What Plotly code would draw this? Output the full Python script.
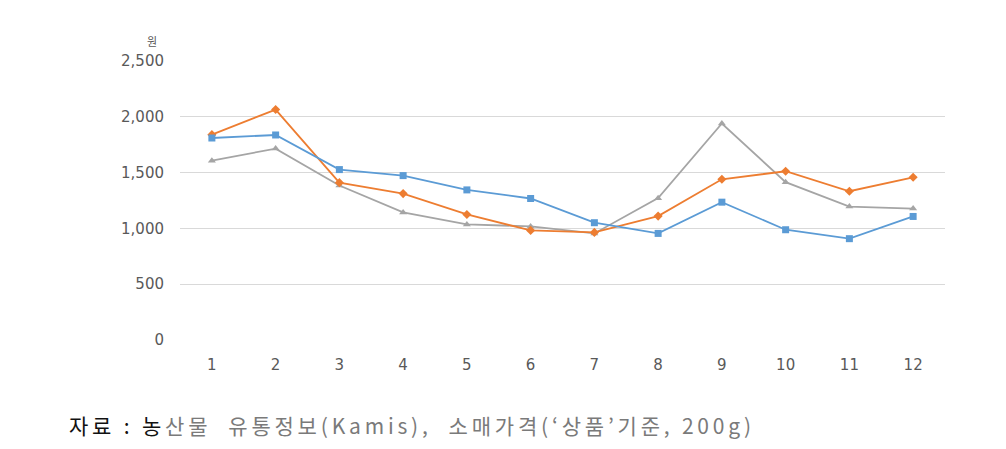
import plotly.graph_objects as go

months = ["1", "2", "3", "4", "5", "6", "7", "8", "9", "10", "11", "12"]
series_blue = [1810, 1837, 1527, 1473, 1345, 1268, 1051, 955, 1235, 988, 908, 1107]
series_orange = [1840, 2065, 1410, 1312, 1125, 982, 964, 1110, 1440, 1512, 1333, 1458]
series_gray = [1607, 1715, 1384, 1143, 1036, 1018, 955, 1271, 1940, 1414, 1196, 1178]
y_ticks = [0, 500, 1000, 1500, 2000, 2500]
y_tick_text = ["0", "500", "1,000", "1,500", "2,000", "2,500"]
unit_label = "원"
caption_dark = "자료 : 농"
caption_rest = "산물  유통정보(Kamis),  소매가격(‘상품’기준, 200g)"

fig = go.Figure()
fig.add_trace(go.Scatter(x=months, y=series_gray, mode="lines+markers",
                         line=dict(color="#A5A5A5", width=1.8),
                         marker=dict(symbol="triangle-up", size=7, color="#A5A5A5")))
fig.add_trace(go.Scatter(x=months, y=series_orange, mode="lines+markers",
                         line=dict(color="#ED7D31", width=1.8),
                         marker=dict(symbol="diamond", size=7, color="#ED7D31")))
fig.add_trace(go.Scatter(x=months, y=series_blue, mode="lines+markers",
                         line=dict(color="#5B9BD5", width=1.8),
                         marker=dict(symbol="square", size=7, color="#5B9BD5")))

tick_font = dict(family="DejaVu Sans, sans-serif", size=15, color="#595959")

fig.update_layout(
    width=1006, height=449,
    margin=dict(l=180, r=61, t=61, b=109),
    paper_bgcolor="white", plot_bgcolor="white",
    showlegend=False,
    font=dict(family="Noto Sans CJK KR, Noto Sans, sans-serif", color="#595959", size=14),
    xaxis=dict(type="category", range=[-0.5, 11.5], showgrid=False, zeroline=False,
               showline=False, ticks="", ticklabelstandoff=14, tickfont=tick_font),
    yaxis=dict(range=[0, 2500], tickvals=y_ticks, ticktext=y_tick_text,
               showgrid=True, gridcolor="#D9D9D9", gridwidth=1, zeroline=False,
               showline=False, ticks="", ticklabelstandoff=15, tickfont=tick_font),
    annotations=[
        dict(text=unit_label, xref="paper", yref="paper", x=-0.028, y=1.035,
             xanchor="right", yanchor="bottom", showarrow=False,
             font=dict(size=11, color="#595959")),
        dict(text=(f"<span style='letter-spacing:3.8px'>{caption_dark}</span>"
                   f"<span style='color:#7a7a7a;letter-spacing:3.8px'>{caption_rest}</span>"),
             xref="paper", yref="paper", x=-0.148, y=-0.305,
             xanchor="left", yanchor="middle", showarrow=False,
             font=dict(size=21, color="#111111",
                       family="Noto Sans CJK KR, sans-serif")),
    ],
)

fig.write_html("out.html")
